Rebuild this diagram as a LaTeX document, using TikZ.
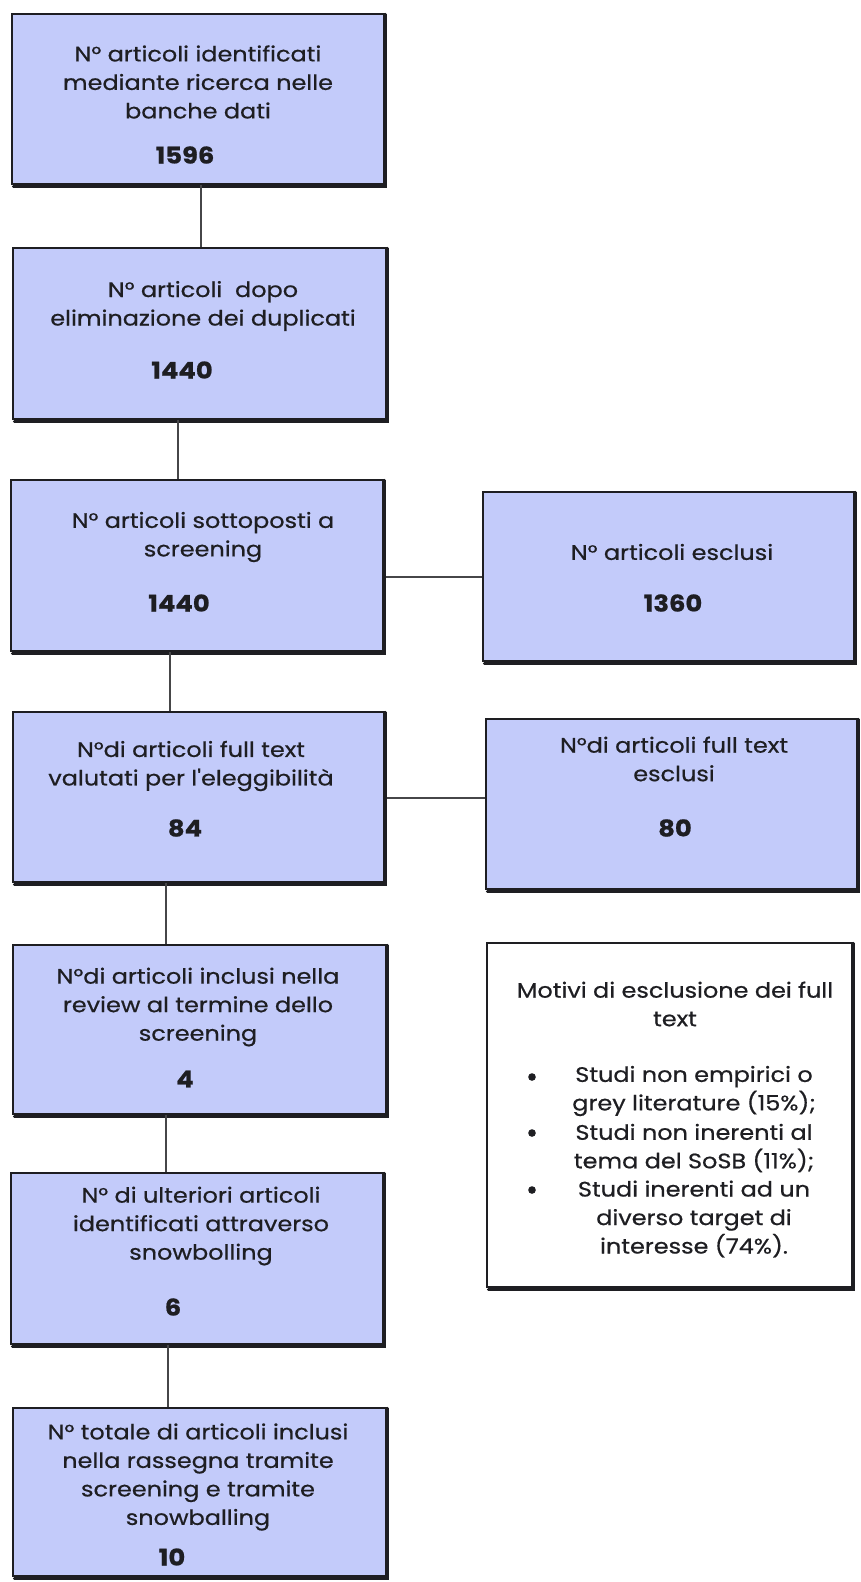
\documentclass[tikz,border=0pt]{standalone}
\usepackage{fontspec}
\setmainfont{Poppins}
\newfontfamily\labelfont{Poppins}[FakeStretch=1.14, FakeBold=0.6]
\newfontfamily\countfont{Poppins}[FakeStretch=1.12, BoldFeatures={FakeBold=0.8}]
\usetikzlibrary{calc}
\definecolor{boxfill}{RGB}{195,203,250}
\definecolor{ink}{RGB}{30,30,34}
\definecolor{wire}{RGB}{70,70,72}
\tikzset{
  stage/.style={draw=ink, line width=1.1pt, fill=boxfill, inner sep=0pt},
  notebox/.style={stage, fill=white},
  label/.style={text=ink, align=center, inner sep=0pt,
    font=\labelfont\fontsize{21}{28.5}\selectfont},
  count/.style={text=ink, inner sep=0pt, font=\countfont\bfseries\fontsize{23}{26}\selectfont},
  link/.style={draw=wire, line width=1.1pt},
  shade/.style={draw=ink, line width=3pt, line cap=round}
}
% box with a heavy right/bottom edge: name, left, top, right, bottom
\newcommand{\stagebox}[6][stage]{%
  \node[#1, minimum width=#5pt-#3pt, minimum height=#6pt-#4pt]
    (#2) at ({(#3+#5)/2},{(#4+#6)/2}) {};
  \draw[shade] ([xshift=1pt,yshift=-1pt]#2.north east) -- ([xshift=1pt,yshift=-2pt]#2.south east)
    -- ([xshift=2pt,yshift=-2pt]#2.south west);
}
\begin{document}
\begin{tikzpicture}[x=1pt,y=-1pt]
\useasboundingbox (0,0) rectangle (861,1582);
\fill[white] (0,0) rectangle (861,1582);

% main column
\stagebox{b1}{12}{14}{384}{184}
\stagebox{b2}{13}{248}{386}{419}
\stagebox{b3}{11}{480}{383}{651}
\stagebox{b4}{13}{712}{384}{882}
\stagebox{b5}{13}{945}{386}{1114}
\stagebox{b6}{11}{1173}{383}{1344}
\stagebox{b7}{13}{1408}{386}{1576}
% side column
\stagebox{r1}{483}{492}{854}{661}
\stagebox{r2}{486}{719}{857}{889}
\stagebox[notebox]{r3}{487}{943}{852}{1287}

% connectors
\coordinate (c1) at (201,0);
\coordinate (c2) at (178,0);
\coordinate (c3) at (170,0);
\coordinate (c4) at (166,0);
\coordinate (c5) at (166,0);
\coordinate (c6) at (168,0);
\coordinate (h1) at (0,577);
\coordinate (h2) at (0,798);
\draw[link] (b1.south -| c1) -- (b2.north -| c1);
\draw[link] (b2.south -| c2) -- (b3.north -| c2);
\draw[link] (b3.south -| c3) -- (b4.north -| c3);
\draw[link] (b4.south -| c4) -- (b5.north -| c4);
\draw[link] (b5.south -| c5) -- (b6.north -| c5);
\draw[link] (b6.south -| c6) -- (b7.north -| c6);
\draw[link] ([xshift=2pt]b3.east |- h1) -- (r1.west |- h1);
\draw[link] ([xshift=2pt]b4.east |- h2) -- (r2.west |- h2);

% texts
\node[label] (t1) at (198,82) {N° articoli identificati\\mediante ricerca nelle\\banche dati};
\node[count] (n1) at (185,155) {1596};

\node[label] (t2) at (203,306) {N° articoli\ \ dopo\\eliminazione dei duplicati};
\node[count] (n2) at (182,370) {1440};

\node[label] (t3) at (203,537) {N° articoli sottoposti a\\screening};
\node[count] (n3) at (179,603) {1440};

\node[label] (t4) at (191,766) {N°di articoli full text\\valutati per l\char"0027 eleggibilità};
\node[count] (n4) at (185,828) {84};

\node[label] (t5) at (198,1007) {N°di articoli inclusi nella\\review al termine dello\\screening};
\node[count] (n5) at (185,1079) {4};

\node[label] (t6) at (201,1226) {N° di ulteriori articoli\\identificati attraverso\\snowbolling};
\node[count] (n6) at (173,1307) {6};

\node[label] (t7) at (198,1477) {N° totale di articoli inclusi\\nella rassegna tramite\\screening e tramite\\snowballing};
\node[count] (n7) at (172,1557) {10};

\node[label] (s1) at (672,552) {N° articoli esclusi};
\node[count] (m1) at (673,603) {1360};

\node[label] (s2) at (674,759) {N°di articoli full text\\esclusi};
\node[count] (m2) at (675,828) {80};

% reasons for exclusion
\node[label] (q0) at (675,1004) {Motivi di esclusione dei full\\text};
\node[label] (q1) at (694,1091) {Studi non empirici o\\grey literature (15\%);};
\node[label] (q2) at (694,1148) {Studi non inerenti al\\tema del SoSB (11\%);};
\node[label] (q3) at (694,1219) {Studi inerenti ad un\\diverso target di\\interesse (74\%).};
\foreach \y/\n in {1077/d1,1133/d2,1190/d3}
  \fill[ink] (532,\y) circle (3.8pt) coordinate (\n);
\end{tikzpicture}
\end{document}
